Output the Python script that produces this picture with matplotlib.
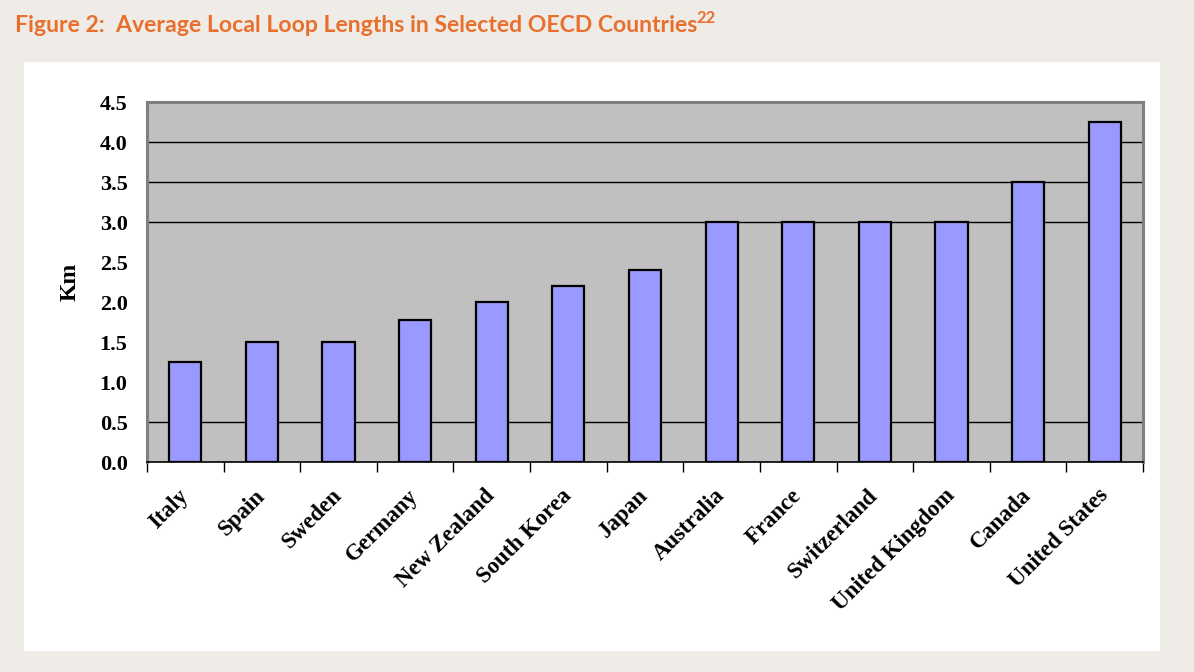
import numpy as np
import matplotlib.pyplot as plt
from matplotlib.patches import Rectangle

# Данные
countries = ['Italy', 'Spain', 'Sweden', 'Germany', 'New Zealand', 'South Korea',
             'Japan', 'Australia', 'France', 'Switzerland', 'United Kingdom',
             'Canada', 'United States']
loop_km = [1.25, 1.5, 1.5, 1.78, 2.0, 2.2, 2.4, 3.0, 3.0, 3.0, 3.0, 3.5, 4.25]
y_labels = [0.0, 0.5, 1.0, 1.5, 2.0, 2.5, 3.0, 3.5, 4.0, 4.5]
grid_levels = [0.5, 3.0, 3.5, 4.0]  # на картинке видны только эти линии

fig = plt.figure(figsize=(11.94, 6.72), dpi=100)
fig.patch.set_facecolor('#efece8')

# белая подложка
fig.patches.append(Rectangle((0.0201, 0.0313), 0.9514, 0.8765, transform=fig.transFigure,
                             facecolor='white', edgecolor='none', zorder=-5))

# заголовок
title = fig.text(0.0126, 0.952, 'Figure 2:  Average Local Loop Lengths in Selected OECD Countries',
                 color='#e8702c', fontsize=16.6, family='Lato', fontweight='bold', va='baseline')
fig.canvas.draw()
bb = title.get_window_extent()
fig.text(bb.x1 / fig.bbox.width - 0.001, 0.966, '22', color='#e8702c', fontsize=12,
         family='Lato', fontweight='bold', va='baseline')

ax = fig.add_axes([0.1231, 0.3125, 0.8342, 0.5357])
ax.set_zorder(2)
ax.set_facecolor('#c0c0c0')

x = np.arange(len(countries))
ax.bar(x, loop_km, width=0.42, color='#9999ff', edgecolor='black', linewidth=1.6, zorder=3)

ax.set_xlim(-0.5, len(countries) - 0.5)
ax.set_ylim(0, 4.5)

for g in grid_levels:
    ax.axhline(g, color='black', linewidth=1.0, zorder=1)

serif = 'Liberation Serif'
ax.set_yticks(y_labels)
ax.set_yticklabels([f'{v:.1f}' for v in y_labels], family=serif, fontweight='bold', fontsize=16)
ax.set_yticks([0.0] + grid_levels + [4.5], minor=True)
ax.tick_params(axis='y', which='major', length=0, pad=14)
ax.tick_params(axis='y', which='minor', length=7, width=1, color='black', direction='out')

ax.set_xticks(x)
ax.set_xticklabels(countries, family=serif, fontweight='bold', fontsize=16.5,
                   rotation=45, ha='right', va='center', rotation_mode='anchor')
ax.set_xticks(np.arange(len(countries) + 1) - 0.5, minor=True)
ax.tick_params(axis='x', which='major', length=0, pad=22)
ax.tick_params(axis='x', which='minor', length=7, width=1, color='black', direction='out')

ax.set_ylabel('Km', family=serif, fontweight='bold', fontsize=17, labelpad=14)

for side in ['top', 'right', 'left']:
    ax.spines[side].set_color('#808080')
    ax.spines[side].set_linewidth(2.2)
ax.spines['bottom'].set_color('black')
ax.spines['bottom'].set_linewidth(1.2)

plt.savefig('out.png', dpi=100, facecolor=fig.get_facecolor())
